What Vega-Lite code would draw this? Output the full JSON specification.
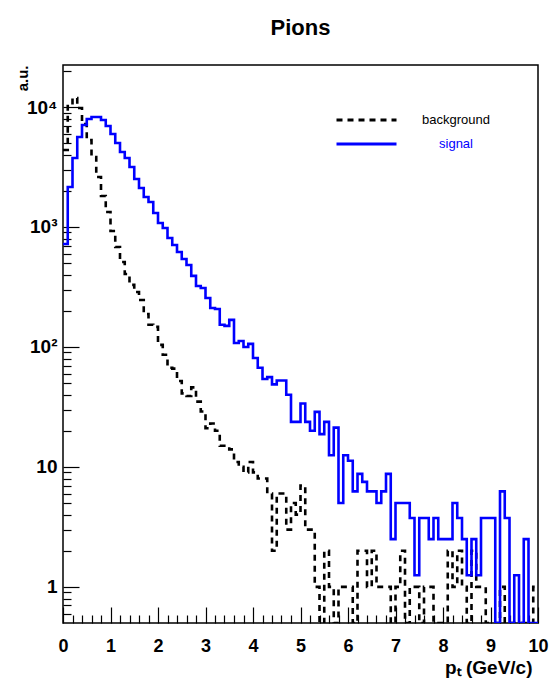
{
  "$schema": "https://vega.github.io/schema/vega-lite/v6.json",
  "width": 475,
  "height": 558,
  "autosize": "none",
  "padding": {"left": 63, "top": 65, "right": 15, "bottom": 56},
  "background": "white",
  "title": {"text": "Pions", "font": "Liberation Sans", "fontSize": 22, "fontWeight": "bold", "color": "black", "anchor": "middle", "baseline": "alphabetic", "offset": 5},
  "config": {"view": {"stroke": "black", "strokeWidth": 1.5}, "font": "Liberation Sans"},
  "data": {"values": [
    {"pt": 0.0, "background": 4385, "signal": 722},
    {"pt": 0.1, "background": 10190, "signal": 2154},
    {"pt": 0.2, "background": 11885, "signal": 3758},
    {"pt": 0.3, "background": 9810, "signal": 5623},
    {"pt": 0.4, "background": 7215, "signal": 7079},
    {"pt": 0.5, "background": 5310, "signal": 7943},
    {"pt": 0.6, "background": 3830, "signal": 8254},
    {"pt": 0.7, "background": 2610, "signal": 8254},
    {"pt": 0.8, "background": 1813, "signal": 7798},
    {"pt": 0.9, "background": 1334, "signal": 6950},
    {"pt": 1.0, "background": 926, "signal": 5957},
    {"pt": 1.1, "background": 681, "signal": 5012},
    {"pt": 1.2, "background": 511, "signal": 4217},
    {"pt": 1.3, "background": 406, "signal": 3758},
    {"pt": 1.4, "background": 329, "signal": 3162},
    {"pt": 1.5, "background": 287, "signal": 2512},
    {"pt": 1.6, "background": 246, "signal": 2113},
    {"pt": 1.7, "background": 188, "signal": 1778},
    {"pt": 1.8, "background": 153, "signal": 1616},
    {"pt": 1.9, "background": 147, "signal": 1308},
    {"pt": 2.0, "background": 104, "signal": 1080},
    {"pt": 2.1, "background": 86, "signal": 981},
    {"pt": 2.2, "background": 67, "signal": 810},
    {"pt": 2.3, "background": 66, "signal": 708},
    {"pt": 2.4, "background": 52, "signal": 619},
    {"pt": 2.5, "background": 41, "signal": 541},
    {"pt": 2.6, "background": 39, "signal": 482},
    {"pt": 2.7, "background": 46, "signal": 391},
    {"pt": 2.8, "background": 35, "signal": 322},
    {"pt": 2.9, "background": 29, "signal": 310},
    {"pt": 3.0, "background": 21, "signal": 256},
    {"pt": 3.1, "background": 23, "signal": 211},
    {"pt": 3.2, "background": 20, "signal": 207},
    {"pt": 3.3, "background": 15, "signal": 153},
    {"pt": 3.4, "background": 15, "signal": 150},
    {"pt": 3.5, "background": 14, "signal": 168},
    {"pt": 3.6, "background": 11, "signal": 108},
    {"pt": 3.7, "background": 10, "signal": 112},
    {"pt": 3.8, "background": 9, "signal": 100},
    {"pt": 3.9, "background": 11, "signal": 106},
    {"pt": 4.0, "background": 9, "signal": 81},
    {"pt": 4.1, "background": 8, "signal": 67},
    {"pt": 4.2, "background": 8, "signal": 54},
    {"pt": 4.3, "background": 6, "signal": 56},
    {"pt": 4.4, "background": 2, "signal": 48.75},
    {"pt": 4.5, "background": 6, "signal": 52.5},
    {"pt": 4.6, "background": 6, "signal": 52.5},
    {"pt": 4.7, "background": 3, "signal": 40},
    {"pt": 4.8, "background": 5, "signal": 23.75},
    {"pt": 4.9, "background": 4, "signal": 23.75},
    {"pt": 5.0, "background": 7, "signal": 33.75},
    {"pt": 5.1, "background": 3, "signal": 23.75},
    {"pt": 5.2, "background": 3, "signal": 20},
    {"pt": 5.3, "background": 1, "signal": 28.75},
    {"pt": 5.4, "background": 0, "signal": 18.75},
    {"pt": 5.5, "background": 2, "signal": 23.75},
    {"pt": 5.6, "background": 1, "signal": 12.5},
    {"pt": 5.7, "background": 0, "signal": 21.25},
    {"pt": 5.8, "background": 1, "signal": 5},
    {"pt": 5.9, "background": 1, "signal": 12.5},
    {"pt": 6.0, "background": 1, "signal": 11.25},
    {"pt": 6.1, "background": 0, "signal": 6.25},
    {"pt": 6.2, "background": 2, "signal": 8.75},
    {"pt": 6.3, "background": 2, "signal": 7.5},
    {"pt": 6.4, "background": 1, "signal": 6.25},
    {"pt": 6.5, "background": 2, "signal": 6.25},
    {"pt": 6.6, "background": 1, "signal": 5},
    {"pt": 6.7, "background": 1, "signal": 6.25},
    {"pt": 6.8, "background": 1, "signal": 8.75},
    {"pt": 6.9, "background": 0, "signal": 2.5},
    {"pt": 7.0, "background": 1, "signal": 5},
    {"pt": 7.1, "background": 2, "signal": 5},
    {"pt": 7.2, "background": 0, "signal": 5},
    {"pt": 7.3, "background": 1, "signal": 3.75},
    {"pt": 7.4, "background": 1, "signal": 1.25},
    {"pt": 7.5, "background": 0, "signal": 3.75},
    {"pt": 7.6, "background": 1, "signal": 3.75},
    {"pt": 7.7, "background": 1, "signal": 2.5},
    {"pt": 7.8, "background": 0, "signal": 3.75},
    {"pt": 7.9, "background": 0, "signal": 2.5},
    {"pt": 8.0, "background": 0, "signal": 2.5},
    {"pt": 8.1, "background": 2, "signal": 2.5},
    {"pt": 8.2, "background": 1, "signal": 5},
    {"pt": 8.3, "background": 2, "signal": 3.75},
    {"pt": 8.4, "background": 1, "signal": 2.5},
    {"pt": 8.5, "background": 0, "signal": 1.25},
    {"pt": 8.6, "background": 2, "signal": 2.5},
    {"pt": 8.7, "background": 1, "signal": 1.25},
    {"pt": 8.8, "background": 1, "signal": 3.75},
    {"pt": 8.9, "background": 0, "signal": 3.75},
    {"pt": 9.0, "background": 0, "signal": 3.75},
    {"pt": 9.1, "background": 0, "signal": 0},
    {"pt": 9.2, "background": 1, "signal": 6.25},
    {"pt": 9.3, "background": 0, "signal": 3.75},
    {"pt": 9.4, "background": 0, "signal": 0},
    {"pt": 9.5, "background": 0, "signal": 1.25},
    {"pt": 9.6, "background": 0, "signal": 0},
    {"pt": 9.7, "background": 0, "signal": 2.5},
    {"pt": 9.8, "background": 0, "signal": 0},
    {"pt": 9.9, "background": 1, "signal": 0},
    {"pt": 10.0, "background": 1, "signal": 0}
  ]},
  "transform": [{"fold": ["background", "signal"], "as": ["series", "count"]}],
  "mark": {"type": "line", "interpolate": "step-after", "strokeWidth": 2.6, "invalid": "show", "clip": true},
  "encoding": {
    "x": {
      "field": "pt", "type": "quantitative",
      "scale": {"domain": [0, 10], "nice": false, "zero": false},
      "axis": {
        "title": "pₜ (GeV/c)",
        "titleFont": "Liberation Sans", "titleFontSize": 19, "titleFontWeight": "bold", "titleColor": "black",
        "titleAnchor": "end", "titleAlign": "right", "titleBaseline": "alphabetic", "titleX": 469, "titleY": 50,
        "values": [0,0.2,0.4,0.6,0.8,1,1.2,1.4,1.6,1.8,2,2.2,2.4,2.6,2.8,3,3.2,3.4,3.6,3.8,4,4.2,4.4,4.6,4.8,5,5.2,5.4,5.6,5.8,6,6.2,6.4,6.6,6.8,7,7.2,7.4,7.6,7.8,8,8.2,8.4,8.6,8.8,9,9.2,9.4,9.6,9.8,10],
        "labelExpr": "datum.value % 1 == 0 ? format(datum.value, 'd') : ''",
        "labelFont": "Liberation Sans", "labelFontSize": 18, "labelFontWeight": "bold", "labelColor": "black",
        "labelPadding": 30, "labelFlush": false, "labelOverlap": false,
        "domain": false, "grid": false,
        "tickColor": "black", "tickWidth": 1.2,
        "tickSize": {"condition": {"test": "datum.value % 1 == 0", "value": -16}, "value": -8}
      }
    },
    "y": {
      "field": "count", "type": "quantitative",
      "scale": {"type": "log", "domain": [0.5, 22400], "nice": false, "clamp": true},
      "axis": {
        "title": "a.u.",
        "titleFont": "Liberation Sans", "titleFontSize": 15, "titleFontWeight": "bold", "titleColor": "black",
        "titleAngle": 270, "titleAlign": "right", "titleBaseline": "alphabetic", "titleX": -36, "titleY": 0,
        "values": [0.6,0.7,0.8,0.9,1,2,3,4,5,6,7,8,9,10,20,30,40,50,60,70,80,90,100,200,300,400,500,600,700,800,900,1000,2000,3000,4000,5000,6000,7000,8000,9000,10000,20000],
        "labelExpr": "datum.value == 1 ? '1' : datum.value == 10 ? '10' : datum.value == 100 ? '10²' : datum.value == 1000 ? '10³' : datum.value == 10000 ? '10⁴' : ''",
        "labelFont": "Liberation Sans", "labelFontSize": 19, "labelFontWeight": "bold", "labelColor": "black",
        "labelPadding": 22, "labelFlush": false, "labelOverlap": false,
        "domain": false, "grid": false,
        "tickColor": "black", "tickWidth": 1.2,
        "tickSize": {"condition": {"test": "indexof([1,10,100,1000,10000], datum.value) >= 0", "value": -16}, "value": -8}
      }
    },
    "color": {
      "field": "series", "type": "nominal",
      "scale": {"domain": ["background", "signal"], "range": ["black", "#0000ff"]},
      "legend": {
        "title": null, "orient": "none", "legendX": 272, "legendY": 46,
        "symbolType": "stroke", "symbolSize": 3600, "symbolStrokeWidth": 3,
        "labelFont": "Liberation Sans", "labelFontSize": 13, "labelAlign": "center", "labelOffset": 58,
        "labelColor": {"expr": "datum.label == 'signal' ? '#0000ff' : 'black'"},
        "clipHeight": 18, "rowPadding": 6
      }
    },
    "strokeDash": {
      "field": "series", "type": "nominal",
      "scale": {"domain": ["background", "signal"], "range": [[6, 5], [1, 0]]}
    }
  }
}
